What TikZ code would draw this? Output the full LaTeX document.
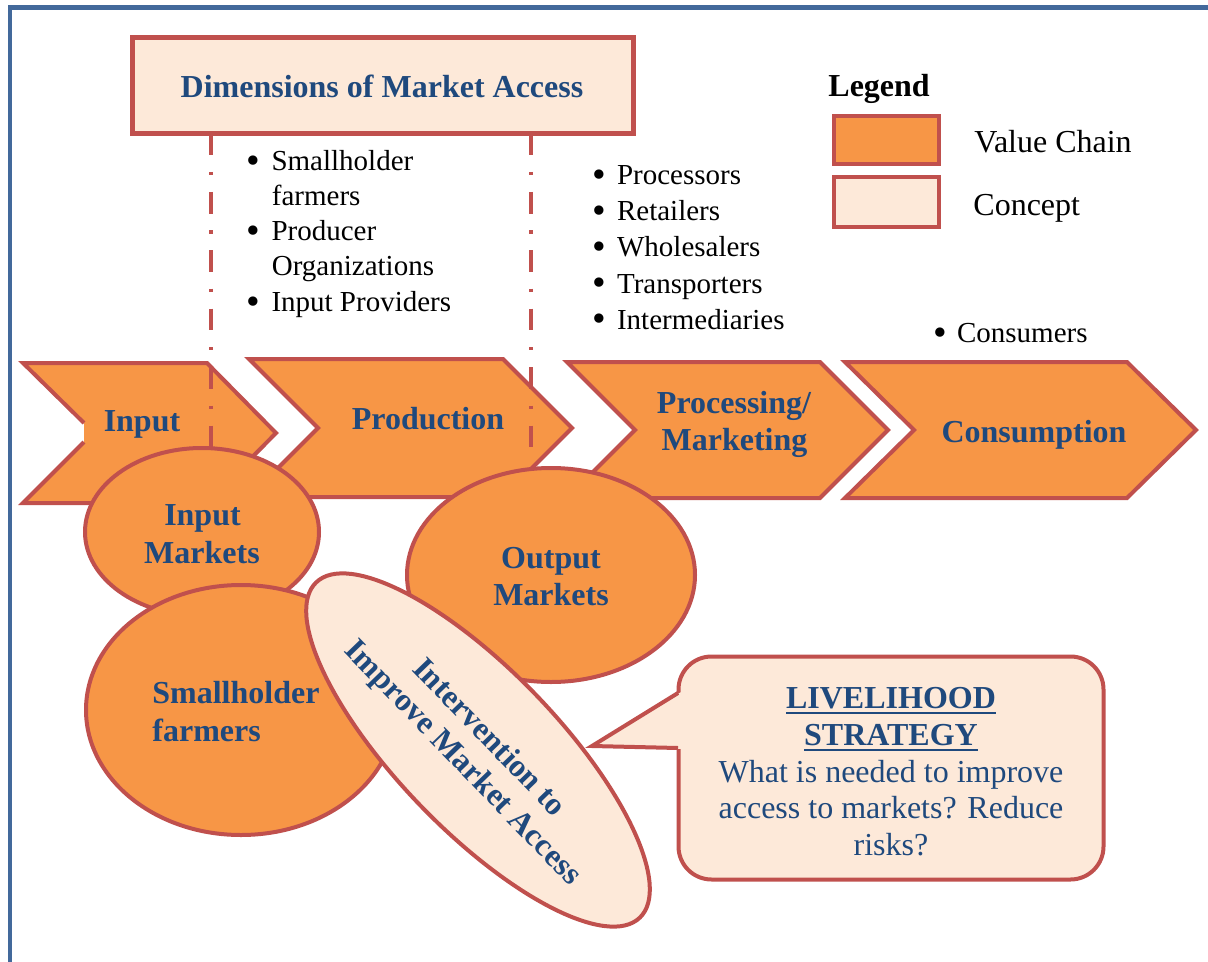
\documentclass[tikz,border=0pt]{standalone}
\usepackage{fontspec}
\setmainfont{Liberation Serif}
\definecolor{vcfill}{HTML}{F79646}
\definecolor{vcline}{HTML}{C0504D}
\definecolor{cfill}{HTML}{FDE9D9}
\definecolor{txtblue}{HTML}{1F497D}
\definecolor{framebl}{HTML}{43699B}
\newcommand{\myul}[1]{\sbox0{#1}\rlap{\rule[-3.1pt]{\wd0}{1.3pt}}\usebox0}
\newcommand{\bul}{\raisebox{-1.4pt}{\fontsize{19.5}{19.5}\selectfont\textbullet}}
\begin{document}
\begin{tikzpicture}[x=0.5pt,y=-0.5pt,
  vcshape/.style={fill=vcfill, draw=vcline, line width=2pt, line join=miter},
  cshape/.style={fill=cfill, draw=vcline, line width=2pt},
  lbl/.style={font=\bfseries\fontsize{16}{18}\selectfont, text=txtblue, inner sep=0pt, anchor=base},
  body/.style={font=\fontsize{16}{18}\selectfont, text=txtblue, inner sep=0pt, anchor=base},
  item/.style={font=\fontsize{14.5}{17.6}\selectfont, text=black, inner sep=0pt, anchor=base west},
  leg/.style={font=\fontsize{16}{18}\selectfont, text=black, inner sep=0pt, anchor=base west},
  dashdotline/.style={draw=vcline, line width=2pt, dash pattern=on 10.85pt off 8.35pt on 1.65pt off 8.35pt},
  boxnode/.style={draw=vcline, line width=2.2pt, outer sep=0pt, inner sep=0pt}
]
\useasboundingbox (0,0) rectangle (1208,962);
\fill[white] (0,0) rectangle (1208,962);
% frame
\draw[framebl, line width=2.3pt, line join=miter] (1208,7.5) -- (9.8,7.5) -- (9.8,962);

% Dimensions box
\node[boxnode, fill=cfill, line width=2.5pt, minimum width=250.5pt, minimum height=48pt] (dim) at (382.7,85.5) {};
\node[lbl] (dimt) at (382,98) {Dimensions of Market Access};

% Legend
\node[leg, font=\bfseries\fontsize{16}{18}\selectfont] (legt) at (828,97) {Legend};
\node[boxnode, fill=vcfill, minimum width=52.5pt, minimum height=24pt] (legvc) at (886.5,140) {};
\node[boxnode, fill=cfill, minimum width=52.5pt, minimum height=25pt] (legc) at (886.5,202) {};
\node[leg] (legvct) at (974,153) {Value Chain};
\node[leg] (legct) at (973,216) {Concept};

% bullet lists
\node[item] (l1a) at (246,171) {\bul\hspace{5.75pt}Smallholder};
\node[item] (l1b) at (271.5,206) {farmers};
\node[item] (l1c) at (246,241) {\bul\hspace{5.75pt}Producer};
\node[item] (l1d) at (271.5,276) {Organizations};
\node[item] (l1e) at (246,312) {\bul\hspace{5.75pt}Input Providers};

\node[item] (l2a) at (592,185) {\bul\hspace{5.5pt}Processors};
\node[item] (l2b) at (592,221) {\bul\hspace{5.5pt}Retailers};
\node[item] (l2c) at (592,257) {\bul\hspace{5.5pt}Wholesalers};
\node[item] (l2d) at (592,293) {\bul\hspace{5.5pt}Transporters};
\node[item] (l2e) at (592,329) {\bul\hspace{5.5pt}Intermediaries};

\node[item] (l3a) at (933,343) {\bul\hspace{5pt}Consumers};

% chevrons
\fill[vcfill] (84,423) -- (23,363) -- (207,363) -- (276,433) -- (207,503) -- (23,503) -- (84,442) -- cycle;
\draw[vcline, line width=2pt, line join=miter] (84,423) -- (23,363) -- (207,363) -- (276,433) -- (207,503) -- (23,503) -- (84,442);
\draw[vcshape] (249,359) -- (503,359) -- (572,428) -- (503,497) -- (249,497) -- (318,428) -- cycle;
\draw[vcshape] (567,362) -- (820,362) -- (888,430) -- (820,498) -- (567,498) -- (635,430) -- cycle;
\draw[vcshape] (845,362) -- (1127,362) -- (1196,430) -- (1127,498) -- (845,498) -- (914,430) -- cycle;

% dash-dot lines from Dimensions box
\coordinate (dl) at (211.3,447);
\coordinate (dr) at (531,447);
\draw[dashdotline] (dl |- dim.south) -- (dl);
\draw[dashdotline] (dr |- dim.south) -- (dr);

% chevron labels
\node[lbl] (tin) at (142,431) {Input};
\node[lbl] (tprod) at (428,429) {Production};
\node[lbl] (tproc1) at (734,413) {Processing/};
\node[lbl] (tproc2) at (734.5,450) {Marketing};
\node[lbl] (tcons) at (1034,442) {Consumption};

% ellipses
\draw[vcshape] (202,532) ellipse [x radius=117, y radius=84];
\node[lbl] (im1) at (202.5,525) {Input};
\node[lbl] (im2) at (202,563) {Markets};

\draw[vcshape] (551,575) ellipse [x radius=144, y radius=107];
\node[lbl] (om1) at (551,568) {Output};
\node[lbl] (om2) at (551,605) {Markets};

\draw[vcshape] (241,710) ellipse [x radius=155, y radius=125];
\node[lbl, anchor=base west] (sf1) at (152,703) {Smallholder};
\node[lbl, anchor=base west] (sf2) at (152,741) {farmers};

\draw[cshape, rotate around={-46:(478,750)}] (478,750) ellipse [x radius=233, y radius=80];
\node[lbl, anchor=center, align=center, rotate=-46] (interv) at (475,751) {Intervention to\\Improve Market Access};

% callout
\node[boxnode, line width=2pt, fill=cfill, rounded corners=16.5pt, minimum width=212.5pt, minimum height=111.5pt] (callout) at (891,768) {};
\fill[cfill] (592,746) -- (682,691.5) -- (682,749) -- cycle;
\coordinate (tip) at (592,746);
\draw[vcline, line width=2pt, line join=miter] (678,693) -- (tip) -- (678,748);

\node[lbl] (cl1) at (891,708) {\myul{LIVELIHOOD}};
\node[lbl] (cl2) at (891,745) {\myul{STRATEGY}};
\node[body] (cl3) at (891,782) {What is needed to improve};
\node[body] (cl4) at (891,818) {access to markets? Reduce};
\node[body] (cl5) at (891,855) {risks?};
\end{tikzpicture}
\end{document}
